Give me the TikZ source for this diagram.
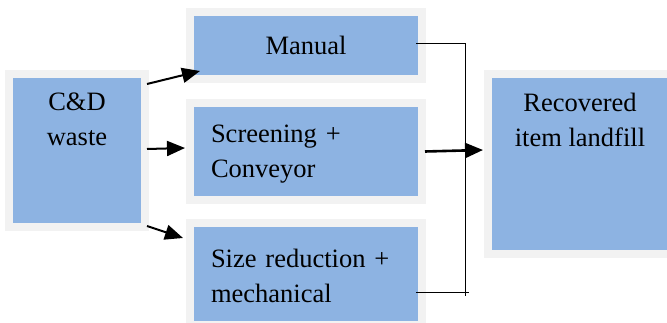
\documentclass[tikz,border=0pt]{standalone}
\usepackage{fontspec}
\setmainfont{Liberation Serif}
\usetikzlibrary{positioning,arrows.meta}
\definecolor{boxblue}{RGB}{141,179,226}
\definecolor{boxrim}{RGB}{242,242,242}

\begin{document}
\begin{tikzpicture}
	[x=1pt,y=1pt,
	every node/.style={font=\fontsize{26.5}{35}\selectfont},
	stage/.style={draw=boxrim,line width=8pt,fill=boxblue,inner sep=0pt},
	stagetext/.style={align=center,inner sep=0pt},
	flow/.style={line width=2pt,-{Triangle[length=18pt,width=15pt]}},
	bus/.style={line width=1pt}]
	\useasboundingbox (0,0) rectangle (667,322);
	\clip (0,0) rectangle (667,322);

	\node[stage,minimum width=136pt,minimum height=153pt] (waste) at (77,171.5) {};
	\node[stagetext,below=23pt of waste.north] (wastelabel) {C\&D\\waste};
	\node[stage,minimum width=232pt,minimum height=67pt] (manual) at (306,276.5) {Manual};
	\node[stage,minimum width=232pt,minimum height=97pt,text height=23pt,
		text width=190pt,inner xsep=21pt,align=left] (screen) at (306,170.5) {Screening +\\Conveyor};
	\node[stage,minimum width=232pt,minimum height=102pt,text height=23pt,
		text width=190pt,inner xsep=21pt,align=left] (sizered) at (306,48) {Size reduction +\\mechanical};
	\node[stage,minimum width=184pt,minimum height=180pt] (recov) at (580,158) {};
	\node[stagetext,below=23pt of recov.north] (recovlabel) {Recovered\\item landfill};

	\draw[flow] ([shift={(-2,-14)}]waste.north east) -- ([shift={(14,12)}]manual.south west);
	\draw[flow] ([shift={(-2,1.5)}]waste.east) -- ([shift={(-1,3.5)}]screen.west);
	\draw[flow] ([shift={(-2,5)}]waste.south east) -- ([shift={(-3,-19)}]sizered.north west);

	\coordinate (join) at (465,26);
	\draw[bus] ([shift={(-10,1.5)}]manual.east) -| (join);
	\draw[bus] ([shift={(-10,-18)}]sizered.east) -- ++(53,0);
	\draw[flow,line width=2.6pt] ([xshift=-1pt]screen.east) -- ([shift={(-1,14)}]recov.west);
\end{tikzpicture}
\end{document}
